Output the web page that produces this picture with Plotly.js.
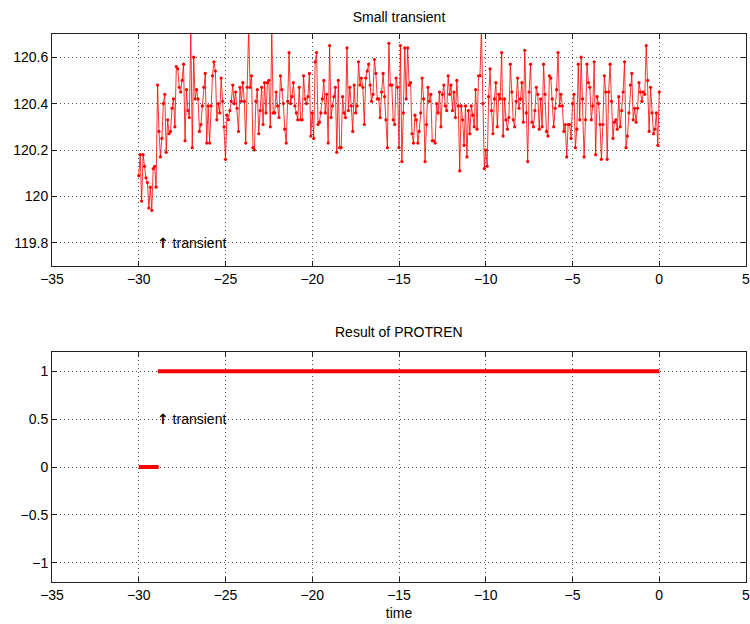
<!DOCTYPE html>
<html>
<head>
<meta charset="utf-8">
<script src="https://cdn.plot.ly/plotly-3.0.1.min.js"></script>
<style>html,body{margin:0;padding:0;background:#fff}#chart{width:750px;height:624px}</style>
</head>
<body>
<div id="chart"></div>
<script>
// sampled signal: starts at t = -30, 12 samples per time unit
const startTime = -30;
const samplesPerUnit = 12;
const signalValues = [
120.09,120.18,119.98,120.18,120.13,120.08,120.06,119.95,120.04,119.94,120.12,120.13,120.04,
120.48,120.28,120.17,120.25,120.40,120.44,120.19,120.33,120.27,120.28,120.38,120.42,120.30,120.56,120.55,120.47,120.45,120.50,120.57,120.24,120.46,120.37,120.34,
120.72,
120.21,120.60,120.42,120.46,120.42,120.28,120.31,120.39,120.47,120.53,120.23,120.39,120.23,120.39,120.52,120.58,120.54,120.33,120.40,120.36,120.51,120.41,120.30,120.16,120.35,120.33,120.37,120.41,120.48,120.40,120.45,120.38,120.28,120.47,120.41,120.49,120.41,120.23,120.47,
120.72,
120.47,120.52,120.21,120.20,120.41,120.46,120.27,
120.37,120.47,120.31,120.49,120.36,120.49,120.50,120.30,
120.72,
120.36,120.36,120.45,120.39,120.34,120.52,120.46,120.40,120.29,120.23,
120.41,120.62,120.40,120.43,120.49,120.39,120.36,120.33,120.47,120.33,
120.33,120.52,120.42,120.40,120.43,120.53,120.26,120.36,120.25,120.58,
120.62,120.31,120.32,120.36,120.42,120.50,120.36,120.44,120.23,120.65,
120.34,120.39,120.43,120.47,120.19,120.50,120.21,120.21,120.43,120.36,
120.34,120.64,120.37,120.47,120.39,120.28,120.48,120.36,120.39,120.58,
120.48,120.51,120.47,120.31,120.51,120.54,120.57,120.48,120.41,120.44,
120.59,120.53,120.42,
120.42,120.34,120.45,120.53,120.43,120.33,120.21,120.66,120.48,120.48,
120.33,120.31,120.51,120.47,120.21,120.65,120.15,120.36,120.64,120.42,
120.64,120.48,120.49,120.27,120.23,120.35,120.33,120.23,120.28,120.36,
120.51,120.42,120.15,120.31,120.47,120.41,120.44,120.24,120.24,120.23,
120.40,120.36,120.45,120.30,120.44,120.48,120.39,120.37,120.52,120.44,
120.48,120.37,120.45,120.34,120.50,120.39,120.11,120.39,120.33,120.22,
120.39,120.17,120.37,120.27,120.39,120.35,120.30,120.46,120.29,120.52,
120.52,120.72,120.40,120.12,120.20,120.13,120.43,120.55,120.37,120.27,
120.42,120.49,120.30,120.44,
120.42,120.62,120.26,120.42,120.33,120.29,120.34,120.57,120.45,120.33,
120.30,120.41,120.51,120.38,120.42,120.49,120.32,120.63,120.36,120.15,
120.45,120.57,120.32,120.30,120.37,120.47,120.44,120.29,120.42,120.30,
120.57,120.44,120.28,120.26,120.52,120.51,120.42,120.30,120.38,120.46,
120.62,120.39,120.44,120.39,120.28,120.31,120.17,120.31,120.31,120.25,
120.40,120.44,120.21,120.29,120.57,120.33,120.60,120.42,120.17,120.33,
120.57,120.49,120.47,120.33,120.39,120.58,120.18,120.43,120.40,120.31,
120.16,120.31,120.52,120.45,120.16,120.45,120.57,120.41,120.25,120.32,120.33,120.29,120.43,
120.30,120.37,120.45,120.58,120.21,120.26,120.36,120.48,120.53,120.33,
120.38,120.32,120.38,120.49,120.45,120.41,120.45,120.44,120.65,120.50,
120.28,120.47,120.36,120.27,120.29,120.36,120.22,120.45
];

// PROTREN result: 0 before the transient, 1 after
const resultZeroTime = [-30, -28.85];
const resultZeroValue = [0, 0];
const resultOneTime = [-28.9, 0];
const resultOneValue = [1, 1];

const xTicks = [-35, -30, -25, -20, -15, -10, -5, 0, 5];
const topYTicks = [119.8, 120, 120.2, 120.4, 120.6];
const bottomYTicks = [-1, -0.5, 0, 0.5, 1];

const topTitle = 'Small transient';
const bottomTitle = 'Result of PROTREN';
const xLabel = 'time';
const noteText = '<span style="font-family:DejaVu Sans;font-weight:bold">\u2191</span> transient';
const topNote = {x: -29.05, y: 119.8};
const bottomNote = {x: -29.05, y: 0.5};

const FONT = 'Liberation Sans, Arial, Helvetica, sans-serif';
const RED = '#ff0000';

const traces = [
  {
    type: 'scatter', mode: 'lines+markers',
    x0: startTime, dx: 1 / samplesPerUnit, y: signalValues,
    xaxis: 'x', yaxis: 'y',
    line: {color: RED, width: 0.8},
    marker: {color: RED, size: 3.2},
    showlegend: false, hoverinfo: 'skip', cliponaxis: true
  },
  {
    type: 'scatter', mode: 'lines',
    x: resultZeroTime, y: resultZeroValue,
    xaxis: 'x2', yaxis: 'y2',
    line: {color: RED, width: 4},
    showlegend: false, hoverinfo: 'skip'
  },
  {
    type: 'scatter', mode: 'lines',
    x: resultOneTime, y: resultOneValue,
    xaxis: 'x2', yaxis: 'y2',
    line: {color: RED, width: 4},
    showlegend: false, hoverinfo: 'skip'
  }
];

function axisStyle(extra) {
  return Object.assign({
    showline: true, linecolor: '#222', linewidth: 1, mirror: 'ticks',
    ticks: 'inside', ticklen: 5, tickcolor: '#222', tickwidth: 1,
    showgrid: true, gridcolor: '#555', griddash: '1px,3px', gridwidth: 1,
    zeroline: false, tickfont: {family: FONT, size: 14, color: '#000'},
    ticklabeloverflow: 'allow', fixedrange: true
  }, extra);
}

const layout = {
  width: 750, height: 624,
  paper_bgcolor: '#fff', plot_bgcolor: '#fff',
  margin: {l: 52, r: 4, t: 34, b: 42},
  font: {family: FONT, size: 14, color: '#000'},
  title: {text: topTitle, font: {family: FONT, size: 14, color: '#000'},
          x: 0.5, xref: 'paper', y: 1 - 17 / 624, yref: 'container', yanchor: 'middle'},
  xaxis: axisStyle({domain: [0, 1], anchor: 'y', range: [-35, 5], tickvals: xTicks}),
  yaxis: axisStyle({domain: [0.5766, 1], anchor: 'x', range: [119.7, 120.7], tickvals: topYTicks}),
  xaxis2: axisStyle({domain: [0, 1], anchor: 'y2', range: [-35, 5], tickvals: xTicks,
                     title: {text: xLabel, font: {family: FONT, size: 14, color: '#000'}, standoff: 6}}),
  yaxis2: axisStyle({domain: [0, 0.4197], anchor: 'x2', range: [-1.2, 1.2], tickvals: bottomYTicks}),
  annotations: [
    {text: bottomTitle, xref: 'paper', yref: 'paper', x: 0.5, y: 0.4197, yanchor: 'bottom',
     yshift: 10, showarrow: false, font: {family: FONT, size: 14, color: '#000'}},
    {text: noteText, xref: 'x', yref: 'y', x: topNote.x, y: topNote.y, xanchor: 'left',
     yanchor: 'middle', showarrow: false, font: {family: FONT, size: 14, color: '#000'}},
    {text: noteText, xref: 'x2', yref: 'y2', x: bottomNote.x, y: bottomNote.y, xanchor: 'left',
     yanchor: 'middle', showarrow: false, font: {family: FONT, size: 14, color: '#000'}}
  ]
};

Plotly.newPlot('chart', traces, layout, {staticPlot: true, displayModeBar: false});
</script>
</body>
</html>
